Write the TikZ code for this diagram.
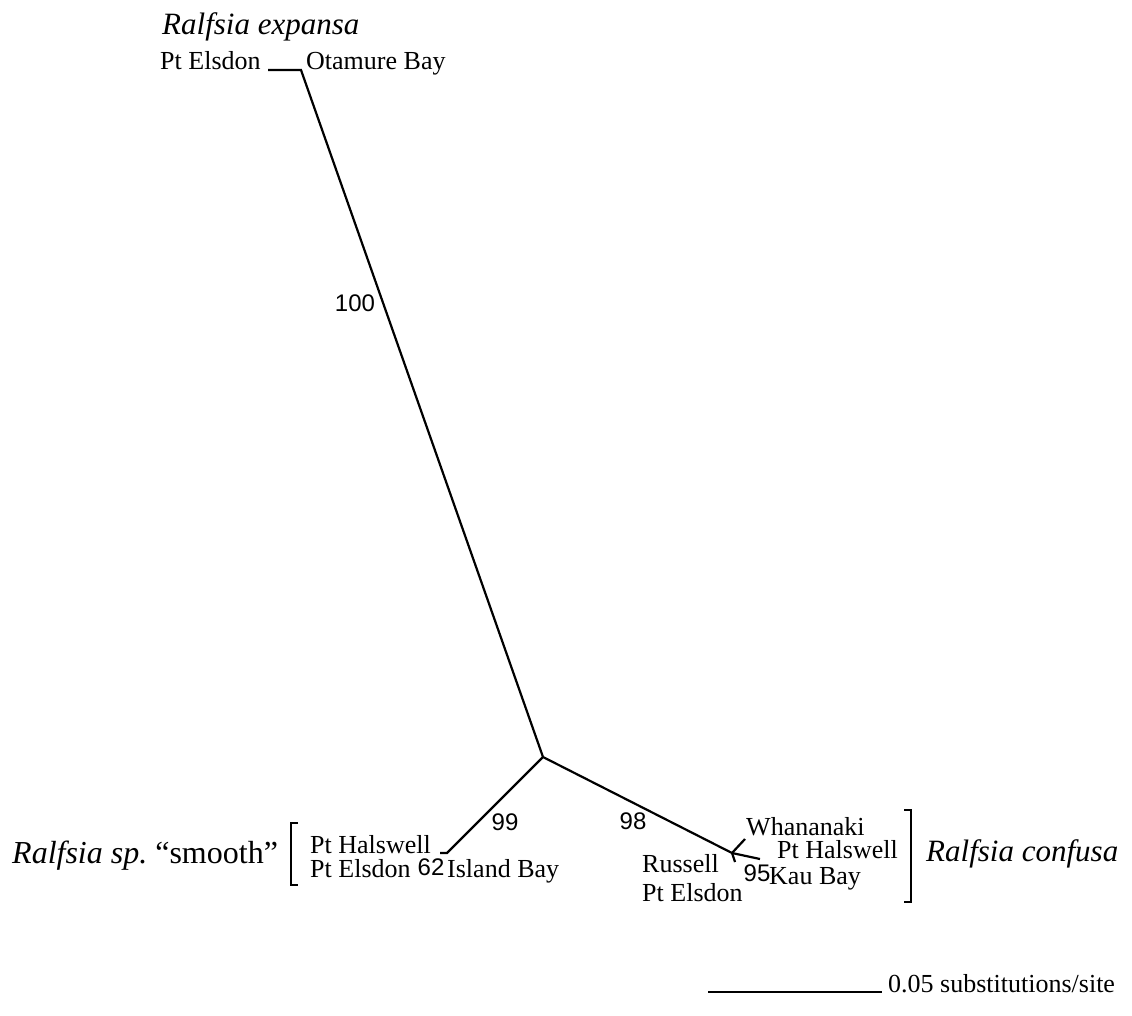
\documentclass[tikz,border=0pt]{standalone}
\usepackage{fontspec}
\setmainfont{Liberation Serif}
\newfontfamily\numfont{Liberation Sans}
\begin{document}
\begin{tikzpicture}[x=1pt,y=-1pt,
  branch/.style={line width=2.2pt, line cap=butt, line join=miter},
  place/.style={inner sep=0pt, font=\fontsize{26}{26}\selectfont},
  species/.style={inner sep=0pt, font=\fontsize{31}{31}\selectfont\itshape},
  support/.style={inner sep=0pt, font=\numfont\fontsize{24}{24}\selectfont},
  bracketline/.style={line width=2.2pt}]
\useasboundingbox (0,0) rectangle (1132,1016);
% tree coordinates
\coordinate (c) at (543,757);
\coordinate (eTop) at (301,70);
\coordinate (eTick) at (268,70);
\coordinate (sEnd) at (447,853);
\coordinate (sTick) at (440,853);
\coordinate (r) at (732,853);
\coordinate (rW) at (745,839);
\coordinate (rD) at (735,862);
\coordinate (rK) at (760,859);
% branches
\draw[branch] (eTick) -- (eTop) -- (c);
\draw[branch] (c) -- (sEnd) -- (sTick);
\draw[branch] (c) -- (r) -- (rK);
\draw[branch] (r) -- (rW);
\draw[branch] (r) -- (rD);
% top labels
\node[species, anchor=base west] (expansa) at (162,35) {Ralfsia expansa};
\node[place, anchor=base west] (eElsdon) at (160,70) {Pt Elsdon};
\node[place, anchor=base west] (eOtamure) at (306,70) {Otamure Bay};
\node[support] (s100) at (355,303) {100};
% smooth clade
\node[species, font=\fontsize{32}{32}\selectfont\itshape, anchor=base west] (smooth) at (12,863) {Ralfsia sp.\ \upshape``smooth''};
\coordinate (lbT) at (298,823);
\coordinate (lbB) at (298,885);
\draw[bracketline] (lbT) -- ++(-7,0) |- (lbB);
\node[place, anchor=base west] (sHal) at (310,853) {Pt Halswell};
\node[place, anchor=base west] (sEls) at (310,877) {Pt Elsdon};
\node[support] (s62) at (431,867) {62};
\node[place, anchor=base west] (sIsl) at (447,877) {Island Bay};
\node[support] (s99) at (505,822) {99};
% confusa clade
\node[support] (s98) at (633,821) {98};
\node[place, anchor=base west] (cWha) at (746,835) {Whananaki};
\node[place, anchor=base west] (cHal) at (777,858) {Pt Halswell};
\node[support] (s95) at (757,873) {95};
\node[place, anchor=base west] (cKau) at (769,884) {Kau Bay};
\node[place, anchor=base west] (cRus) at (642,872) {Russell};
\node[place, anchor=base west] (cEls) at (642,901) {Pt Elsdon};
\coordinate (rbT) at (904,810);
\coordinate (rbB) at (904,902);
\draw[bracketline] (rbT) -- ++(7,0) |- (rbB);
\node[species, anchor=base west] (confusa) at (926,861) {Ralfsia confusa};
% scale bar
\coordinate (sbL) at (708,992);
\coordinate (sbR) at (882,992);
\draw[branch] (sbL) -- (sbR);
\node[place, anchor=base west] (scale) at (888,992) {0.05 substitutions/site};
\end{tikzpicture}
\end{document}
